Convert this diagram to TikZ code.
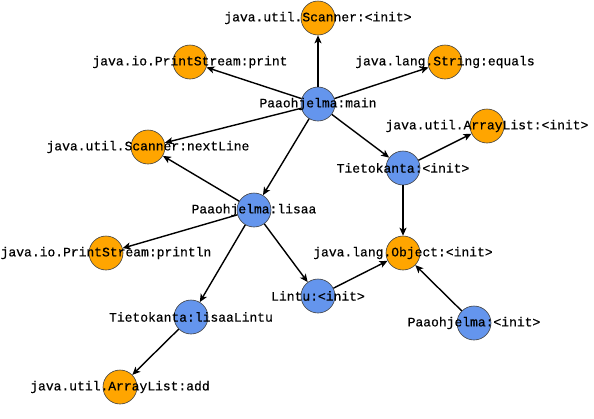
\documentclass[tikz,border=0pt]{standalone}
\usepackage{fontspec}
\newfontfamily\lblfont[FakeBold=0.5]{Liberation Mono}
\usetikzlibrary{arrows.meta}
\definecolor{callorange}{HTML}{FFA500}
\definecolor{callblue}{HTML}{6495ED}
\tikzset{
  vert/.style={circle, draw=black!75, line width=0.6pt, minimum size=34pt, inner sep=0pt},
  ext/.style={vert, fill=callorange},
  own/.style={vert, fill=callblue},
  lbl/.style={font=\fontsize{13pt}{15pt}\lblfont, inner sep=0pt, text=black},
  call/.style={line width=1.4pt, -{Stealth[length=8pt,width=7pt,inset=2pt]}}
}
\begin{document}
\begin{tikzpicture}[x=1pt,y=-1pt]
\useasboundingbox (0,0) rectangle (594,418);
% vertices
\node[ext] (scinit) at (318,18) {};
\node[ext] (print) at (190,62) {};
\node[ext] (equals) at (445,62) {};
\node[own] (main) at (318,104) {};
\node[ext] (nextline) at (148,147) {};
\node[ext] (alinit) at (487,126) {};
\node[own] (tkinit) at (403,168) {};
\node[own] (lisaa) at (254,210) {};
\node[ext] (println) at (106,253) {};
\node[ext] (objinit) at (403,253) {};
\node[own] (lintu) at (318,296) {};
\node[own] (lisaalintu) at (191,317) {};
\node[own] (pinit) at (474,323) {};
\node[ext] (aladd) at (120,387) {};
% calls
\draw[call] (main) -- (scinit);
\draw[call] (main) -- (print);
\draw[call] (main) -- (equals);
\draw[call] (main) -- (nextline);
\draw[call] (main) -- (tkinit);
\draw[call] (main) -- (lisaa);
\draw[call] (tkinit) -- (alinit);
\draw[call] (tkinit) -- (objinit);
\draw[call] (lisaa) -- (nextline);
\draw[call] (lisaa) -- (println);
\draw[call] (lisaa) -- (lisaalintu);
\draw[call] (lisaa) -- (lintu);
\draw[call] (lintu) -- (objinit);
\draw[call] (pinit) -- (objinit);
\draw[call] (lisaalintu) -- (aladd);
% labels
\node[lbl] (scinitL) at (scinit) {java.util.Scanner:<init>};
\node[lbl] (printL) at (print) {java.io.PrintStream:print};
\node[lbl] (equalsL) at (equals) {java.lang.String:equals};
\node[lbl] (mainL) at (main) {Paaohjelma:main};
\node[lbl] (nextlineL) at (nextline) {java.util.Scanner:nextLine};
\node[lbl] (alinitL) at (alinit) {java.util.ArrayList:<init>};
\node[lbl] (tkinitL) at (tkinit) {Tietokanta:<init>};
\node[lbl] (lisaaL) at (lisaa) {Paaohjelma:lisaa};
\node[lbl] (printlnL) at (println) {java.io.PrintStream:println};
\node[lbl] (objinitL) at (objinit) {java.lang.Object:<init>};
\node[lbl] (lintuL) at (lintu) {Lintu:<init>};
\node[lbl] (lisaalintuL) at (lisaalintu) {Tietokanta:lisaaLintu};
\node[lbl] (pinitL) at (pinit) {Paaohjelma:<init>};
\node[lbl] (aladdL) at (aladd) {java.util.ArrayList:add};
\end{tikzpicture}
\end{document}
